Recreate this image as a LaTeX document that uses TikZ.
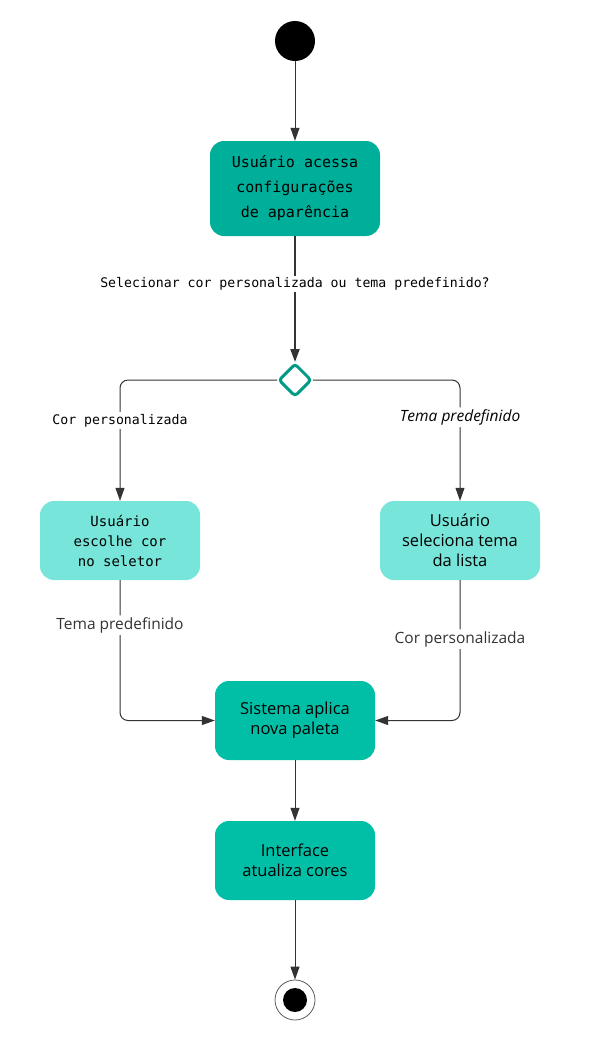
\documentclass[tikz,border=0pt]{standalone}
\usepackage{fontspec}
\setmainfont{Open Sans}
\newfontfamily\monof{DejaVu Sans Mono}
\usetikzlibrary{arrows.meta,shapes.geometric}
\definecolor{tealA}{HTML}{00AF99}
\definecolor{tealB}{HTML}{00BFA6}
\definecolor{tealL}{HTML}{77E5D9}
\definecolor{tealD}{HTML}{009A87}
\definecolor{lineC}{HTML}{333333}
\tikzset{
  box/.style={rounded corners=14pt, minimum width=160pt, minimum height=79pt, align=center, inner sep=0pt, text=black},
  sansbox/.style={box, font=\fontsize{16.5}{20}\selectfont},
  conn/.style={draw=lineC, line width=1pt, -{Triangle[length=13pt,width=9pt]}},
  lbl/.style={fill=white, inner sep=2pt, text=black},
  slbl/.style={lbl, font=\fontsize{15.5}{17}\selectfont, text=black!80},
  ilbl/.style={lbl, font=\fontsize{15.5}{17}\selectfont\itshape},
  mlbl/.style={lbl, font=\monof\fontsize{13.2}{15}\selectfont},
}
\begin{document}
\begin{tikzpicture}[x=1pt,y=-1pt]
\useasboundingbox (0,0) rectangle (602,1061);
\node[circle, fill=black, minimum size=40pt, inner sep=0pt] (start) at (295,41) {};
\node[box, fill=tealA, minimum width=170pt, minimum height=95pt, font=\monof\fontsize{15}{25}\selectfont] (n1) at (295,188.5) {Usuário acessa\\configurações\\de aparência};
\node[diamond, draw=tealD, line width=3pt, rounded corners=3pt, minimum width=33pt, minimum height=33pt, inner sep=0pt] (d) at (295,380) {};
\node[box, fill=tealL, font=\monof\fontsize{14}{20}\selectfont] (n2) at (120,540.5) {Usuário\\escolhe cor\\no seletor};
\node[sansbox, fill=tealL] (n3) at (460,540.5) {Usuário\\seleciona tema\\da lista};
\node[sansbox, fill=tealB] (n4) at (295,720.5) {Sistema aplica\\nova paleta};
\node[sansbox, fill=tealB] (n5) at (295,860.5) {Interface\\atualiza cores};
\node[circle, draw=lineC!80, line width=0.8pt, minimum size=40pt, inner sep=0pt] (endo) at (295,1000) {};
\node[circle, fill=black, minimum size=24pt, inner sep=0pt] (endi) at (295,1000) {};

\draw[conn] (start) -- (n1);
\draw[conn, line width=2pt] (n1) -- node[mlbl, pos=0.38]{Selecionar cor personalizada ou tema predefinido?} (d);
\draw[conn, rounded corners=8pt] (d.west) -| node[mlbl, pos=0.667]{Cor personalizada} (n2.north);
\draw[conn, rounded corners=8pt] (d.east) -| node[ilbl, pos=0.654]{Tema predefinido} (n3.north);
\draw[conn, rounded corners=8pt] (n2.south) |- node[slbl, pos=0.16]{Tema predefinido} (n4.west);
\draw[conn, rounded corners=8pt] (n3.south) |- node[slbl, pos=0.21]{Cor personalizada} (n4.east);
\draw[conn] (n4) -- (n5);
\draw[conn] (n5) -- (endo);
\end{tikzpicture}
\end{document}
